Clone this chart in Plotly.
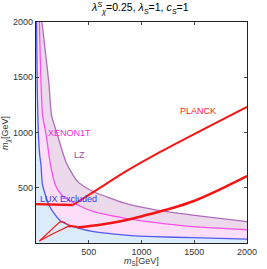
import plotly.graph_objects as go

# LUX (blue) exclusion boundary
lux_x = [5, 12, 22, 35, 47, 62, 122, 183, 243, 395, 546, 848, 1120, 1483, 2000]
lux_y = [2000, 1400, 1000, 800, 706, 525, 344, 253, 193, 136, 102, 72, 57, 48, 35]
# XENON1T (magenta) projection
xenon_x = [32, 38, 62, 93, 138, 183, 243, 395, 546, 848, 1120, 1483, 2000]
xenon_y = [2000, 1747, 1158, 995, 706, 525, 434, 344, 283, 223, 186, 148, 120]
# LZ (purple) projection
lz_x = [56, 90, 122, 147, 198, 288, 395, 546, 848, 1120, 1483, 2000]
lz_y = [2000, 1720, 1448, 1158, 995, 724, 555, 464, 359, 303, 253, 193]
# PLANCK relic density contours
planck_h_x = [0, 150, 300, 349]
planck_h_y = [352, 350, 347, 344]
planck_a_x = [349, 576, 848, 1200, 1600, 2000]
planck_a_y = [344, 480, 645, 835, 1035, 1231]
planck_b_x = [395, 576, 848, 1157, 1302, 1483, 1710, 2000]
planck_b_y = [140, 160, 205, 280, 318, 375, 470, 606]
wedge_up_x = [32, 229, 265, 304, 395]
wedge_up_y = [18, 193, 190, 163, 148]
wedge_lo_x = [32, 150, 304, 395]
wedge_lo_y = [18, 80, 150, 142]

xticks = [500, 1000, 1500, 2000]
yticks = [500, 1000, 1500, 2000]

FONT = "Liberation Sans, Arial, sans-serif"

fig = go.Figure()

# filled regions
fig.add_trace(go.Scatter(x=[0] + lux_x + [2000, 0], y=[2000] + lux_y + [0, 0],
                         fill="toself", fillcolor="rgb(220,235,250)", line=dict(width=0),
                         mode="lines", hoverinfo="skip", showlegend=False))
fig.add_trace(go.Scatter(x=xenon_x + lux_x[::-1], y=xenon_y + lux_y[::-1],
                         fill="toself", fillcolor="rgb(253,222,248)", line=dict(width=0),
                         mode="lines", hoverinfo="skip", showlegend=False))
fig.add_trace(go.Scatter(x=lz_x + xenon_x[::-1], y=lz_y + xenon_y[::-1],
                         fill="toself", fillcolor="rgb(236,218,236)", line=dict(width=0),
                         mode="lines", hoverinfo="skip", showlegend=False))

# boundary lines
fig.add_trace(go.Scatter(x=lux_x, y=lux_y, mode="lines",
                         line=dict(color="rgb(80,90,240)", width=1.3, shape="spline", smoothing=0.6),
                         showlegend=False))
fig.add_trace(go.Scatter(x=xenon_x, y=xenon_y, mode="lines",
                         line=dict(color="rgb(250,80,235)", width=1.3, shape="spline", smoothing=0.6),
                         showlegend=False))
fig.add_trace(go.Scatter(x=lz_x, y=lz_y, mode="lines",
                         line=dict(color="rgb(175,110,185)", width=1.3, shape="spline", smoothing=0.6),
                         showlegend=False))

# PLANCK contours
red = "rgb(245,20,20)"
fig.add_trace(go.Scatter(x=wedge_up_x, y=wedge_up_y, mode="lines",
                         line=dict(color=red, width=1.1), showlegend=False))
fig.add_trace(go.Scatter(x=wedge_lo_x, y=wedge_lo_y, mode="lines",
                         line=dict(color=red, width=1.1), showlegend=False))
fig.add_trace(go.Scatter(x=planck_b_x, y=planck_b_y, mode="lines",
                         line=dict(color=red, width=2.6, shape="spline", smoothing=0.6), showlegend=False))
fig.add_trace(go.Scatter(x=planck_h_x, y=planck_h_y, mode="lines",
                         line=dict(color=red, width=2.4), showlegend=False))
fig.add_trace(go.Scatter(x=planck_a_x, y=planck_a_y, mode="lines",
                         line=dict(color=red, width=2.0, shape="spline", smoothing=0.8), showlegend=False))

ann = [
    dict(x=1540, y=1195, text="PLANCK", font=dict(color="rgb(245,30,30)", size=9, family=FONT)),
    dict(x=315, y=998, text="XENON1T", font=dict(color="rgb(245,40,225)", size=9, family=FONT)),
    dict(x=410, y=796, text="LZ", font=dict(color="rgb(150,80,155)", size=9, family=FONT)),
    dict(x=310, y=398, text="LUX Excluded", font=dict(color="rgb(50,60,235)", size=9, family=FONT)),
]
for a in ann:
    a.update(xref="x", yref="y", showarrow=False)

ann += [
    dict(xref="paper", yref="paper", x=0.492, y=1.063, yanchor="middle", showarrow=False,
         text="<i>λ</i><sup><i>S</i></sup><sub><i>χ</i></sub>=0.25, <i>λ</i><sub><i>S</i></sub>=1, <i>c</i><sub><i>S</i></sub>=1",
         font=dict(size=10.5, color="black", family=FONT)),
    dict(xref="paper", yref="paper", x=0.5, y=-0.084, yanchor="middle", showarrow=False,
         text="<i>m</i><sub>S</sub>[GeV]", font=dict(size=9, color="#333", family=FONT)),
    dict(xref="paper", yref="paper", x=-0.145, y=0.5, xanchor="center", yanchor="middle",
         textangle=-90, showarrow=False,
         text="<i>m</i><sub><i>χ</i></sub>[GeV]", font=dict(size=9, color="#333", family=FONT)),
]

axis_common = dict(showgrid=False, zeroline=False, showline=True, linecolor="#222", linewidth=1.3,
                   mirror="ticks", ticks="inside", ticklen=3, tickcolor="#444", tickwidth=1,
                   ticklabeloverflow="allow",
                   tickfont=dict(size=9, color="#333", family=FONT))

fig.update_layout(
    width=267, height=269, autosize=False,
    margin=dict(l=36, r=10, t=22, b=26),
    paper_bgcolor="white", plot_bgcolor="white",
    xaxis=dict(range=[0, 2000], tickvals=xticks, ticktext=[str(v) for v in xticks], **axis_common),
    yaxis=dict(range=[0, 2000], tickvals=yticks, ticktext=[str(v) for v in yticks], **axis_common),
    annotations=ann,
    showlegend=False,
)

fig.write_html("out.html", config={"displayModeBar": False},
               post_script="document.body.style.margin='0px';document.body.style.overflow='hidden';")
